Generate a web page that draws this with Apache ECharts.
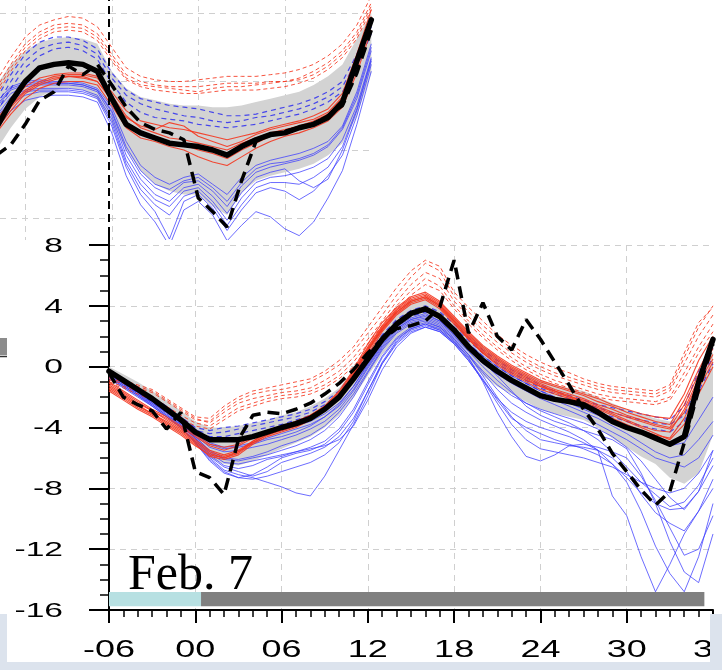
<!DOCTYPE html>
<html>
<head>
<meta charset="utf-8">
<script src="https://cdn.jsdelivr.net/npm/echarts@6/dist/echarts.min.js"></script>
<style>
  html, body { margin: 0; padding: 0; background: #ffffff; }
  #chart { width: 722px; height: 670px; }
</style>
</head>
<body>
<div id="chart"></div>
<script>
// ---------------- lower (main) panel: forecast hour -06 .. 36 ----------------
const hours = [-6,-5,-4,-3,-2,-1,0,1,2,3,4,5,6,7,8,9,10,11,12,13,14,15,16,17,18,19,20,21,22,23,24,25,26,27,28,29,30,31,32,33,34,35,36];

const ensMean = [-0.3,-0.9,-1.5,-2.1,-2.8,-3.5,-4.3,-4.8,-4.8,-4.8,-4.6,-4.3,-4.0,-3.75,-3.4,-2.8,-2.0,-0.8,0.5,1.8,2.8,3.5,3.8,3.3,2.4,1.3,0.4,-0.3,-0.9,-1.4,-1.9,-2.15,-2.3,-2.5,-3.0,-3.6,-4.0,-4.3,-4.7,-5.1,-4.6,-1.0,1.8];
const observed = [-0.4,-2.0,-2.5,-2.9,-4.1,-3.0,-6.9,-7.3,-8.4,-4.8,-3.2,-3.0,-3.1,-2.8,-2.4,-1.8,-1.1,-0.2,0.9,1.8,2.5,2.7,3.0,3.9,7.0,2.2,4.2,2.0,1.1,3.1,1.8,0.3,-1.2,-2.8,-4.1,-5.7,-6.9,-8.1,-9.1,-8.2,-5.0,-1.5,1.5];
const spreadHigh = [0.0,-0.5,-1.0,-1.6,-2.2,-2.9,-3.6,-4.0,-4.0,-3.9,-3.7,-3.5,-3.2,-3.0,-2.6,-2.1,-1.4,-0.2,1.2,2.5,3.6,4.4,4.6,4.1,3.2,2.2,1.4,0.6,0.0,-0.5,-0.9,-1.2,-1.4,-1.6,-2.0,-2.4,-2.8,-3.1,-3.4,-3.6,-3.0,-1.0,1.0];
const spreadLow = [-0.8,-1.4,-2.0,-2.6,-3.3,-4.0,-5.0,-6.0,-6.4,-6.5,-6.2,-5.8,-5.4,-5.0,-4.6,-4.0,-3.2,-2.0,-0.6,0.8,1.8,2.4,2.8,2.4,1.5,0.5,-0.6,-1.3,-1.8,-2.3,-2.8,-3.1,-3.3,-3.5,-4.0,-4.7,-5.3,-5.9,-6.4,-7.3,-7.7,-7.0,-4.5];

// members (red solid)
const red1 = [-1.0,-1.6,-2.2,-2.8,-3.3,-3.9,-4.5,-5.1,-5.3,-5.1,-4.6,-4.2,-3.9,-3.6,-3.2,-2.6,-1.7,-0.3,1.3,2.7,3.8,4.5,4.8,4.2,3.2,2.2,1.3,0.6,0.0,-0.5,-1.0,-1.3,-1.6,-1.9,-2.3,-2.6,-3.0,-3.3,-3.6,-3.8,-2.2,-0.2,1.6];
const red2 = [-1.2,-1.8,-2.4,-2.9,-3.5,-4.1,-4.8,-5.5,-5.8,-5.5,-4.9,-4.4,-4.1,-3.8,-3.4,-2.8,-1.9,-0.5,1.1,2.5,3.6,4.3,4.6,4.0,3.0,1.9,1.0,0.3,-0.3,-0.8,-1.3,-1.6,-1.9,-2.3,-2.7,-3.1,-3.5,-3.9,-4.2,-4.3,-2.8,-0.8,0.8];
const red3 = [-1.5,-2.1,-2.7,-3.2,-3.8,-4.4,-5.1,-5.9,-6.1,-5.8,-5.1,-4.6,-4.3,-4.0,-3.5,-2.9,-2.0,-0.6,1.0,2.4,3.5,4.2,4.5,3.9,2.9,1.8,0.9,0.1,-0.5,-1.0,-1.5,-1.8,-2.1,-2.4,-2.9,-3.4,-3.8,-4.2,-4.5,-4.7,-3.4,-1.4,0.3];
const red4 = [-1.3,-1.9,-2.5,-3.1,-3.6,-4.2,-4.9,-5.6,-5.9,-5.6,-4.9,-4.3,-3.9,-3.6,-3.2,-2.6,-1.6,-0.2,1.5,2.9,3.9,4.6,4.9,4.3,3.3,2.3,1.4,0.7,0.1,-0.4,-0.9,-1.2,-1.5,-1.8,-2.1,-2.5,-2.8,-3.1,-3.3,-3.4,-1.8,0.4,2.0];
const red5 = [-1.1,-1.7,-2.3,-2.9,-3.4,-4.0,-4.6,-5.2,-5.5,-5.2,-4.7,-4.4,-4.2,-3.9,-3.5,-2.9,-2.1,-0.8,0.8,2.3,3.4,4.1,4.4,3.8,2.8,1.8,0.9,0.2,-0.4,-0.9,-1.3,-1.7,-2.0,-2.2,-2.6,-3.0,-3.3,-3.6,-3.9,-4.1,-3.0,-1.0,0.5];
const red6 = [-1.6,-2.2,-2.8,-3.3,-3.9,-4.5,-5.2,-5.8,-6.0,-5.6,-5.0,-4.5,-4.1,-3.8,-3.3,-2.7,-1.8,-0.4,1.2,2.6,3.7,4.4,4.7,4.1,3.1,2.1,1.2,0.5,-0.1,-0.6,-1.1,-1.5,-1.8,-2.1,-2.5,-2.8,-3.2,-3.5,-3.8,-4.0,-2.5,-0.5,1.2];
const red7 = [-1.4,-2.0,-2.6,-3.1,-3.7,-4.3,-5.0,-5.7,-6.0,-5.7,-5.0,-4.5,-4.2,-3.9,-3.5,-2.8,-1.9,-0.5,1.1,2.5,3.6,4.3,4.6,4.0,3.0,2.0,1.1,0.4,-0.2,-0.7,-1.2,-1.6,-2.0,-2.4,-2.8,-3.2,-3.6,-4.0,-4.4,-4.8,-3.8,-1.8,0.0];

// members (red dashed)
const redDash1 = [-0.8,-1.0,-1.3,-1.6,-2.2,-2.8,-3.4,-3.7,-3.0,-2.4,-2.1,-1.9,-1.7,-1.6,-1.4,-0.9,-0.3,0.6,1.8,3.0,4.3,5.4,6.2,5.8,4.3,3.3,2.4,1.6,0.9,0.3,-0.2,-0.6,-0.9,-1.2,-1.5,-1.7,-1.8,-1.9,-2.0,-1.6,0.2,2.0,3.4];
const redDash2 = [-1.0,-1.3,-1.6,-2.0,-2.6,-3.2,-3.7,-3.9,-3.3,-2.7,-2.4,-2.1,-1.9,-1.8,-1.6,-1.2,-0.6,0.3,1.5,2.7,4.0,5.0,5.8,5.3,4.0,3.0,2.1,1.3,0.6,0.0,-0.5,-0.9,-1.2,-1.5,-1.8,-2.0,-2.1,-2.2,-2.3,-2.0,-0.4,1.3,2.8];
const redDash3 = [-0.9,-1.1,-1.4,-1.7,-2.3,-2.9,-3.5,-3.6,-2.8,-2.2,-1.8,-1.6,-1.5,-1.3,-1.0,-0.5,0.1,1.0,2.2,3.4,4.7,5.9,6.8,6.3,4.6,3.6,2.7,1.9,1.2,0.5,0.0,-0.4,-0.7,-1.0,-1.3,-1.5,-1.6,-1.7,-1.8,-1.4,0.6,2.6,4.0];
const redDash4 = [-1.1,-1.4,-1.8,-2.2,-2.8,-3.4,-3.9,-4.1,-3.5,-2.9,-2.6,-2.3,-2.1,-2.0,-1.8,-1.4,-0.8,0.0,1.2,2.4,3.7,4.7,5.4,5.0,3.8,2.8,1.9,1.1,0.4,-0.2,-0.7,-1.1,-1.4,-1.7,-2.0,-2.2,-2.3,-2.4,-2.5,-2.2,-0.8,0.9,2.3];
const redDash5 = [-0.7,-0.9,-1.2,-1.5,-2.1,-2.7,-3.3,-3.4,-2.6,-2.0,-1.6,-1.4,-1.2,-1.0,-0.8,-0.3,0.4,1.3,2.6,3.9,5.2,6.3,7.0,6.6,4.9,3.9,3.0,2.1,1.4,0.8,0.3,-0.1,-0.4,-0.8,-1.1,-1.3,-1.4,-1.5,-1.6,-1.2,0.9,2.9,3.9];

// members (blue dashed)
const blueDash1 = [-0.3,-0.9,-1.5,-2.1,-2.8,-3.5,-4.2,-4.4,-4.3,-4.1,-3.9,-3.7,-3.5,-3.3,-3.0,-2.5,-1.8,-0.8,0.6,1.9,2.9,3.5,3.8,3.4,2.6,1.7,0.9,0.2,-0.4,-0.9,-1.4,-1.8,-2.1,-2.4,-2.7,-3.0,-3.3,-3.5,-3.7,-3.8,-3.2,-1.0,0.6];
const blueDash2 = [-0.5,-1.1,-1.7,-2.3,-3.0,-3.6,-4.3,-4.6,-4.6,-4.4,-4.2,-4.0,-3.8,-3.5,-3.2,-2.7,-2.0,-1.0,0.4,1.7,2.7,3.3,3.6,3.2,2.4,1.5,0.7,0.0,-0.6,-1.1,-1.6,-2.0,-2.4,-2.7,-3.0,-3.3,-3.6,-3.9,-4.1,-4.3,-3.6,-1.6,0.2];
const blueDash3 = [-0.2,-0.8,-1.4,-2.0,-2.6,-3.3,-4.0,-4.2,-4.0,-3.9,-3.7,-3.5,-3.3,-3.1,-2.8,-2.3,-1.6,-0.5,0.8,2.1,3.1,3.7,4.0,3.6,2.8,1.9,1.1,0.4,-0.2,-0.7,-1.2,-1.6,-1.9,-2.2,-2.5,-2.7,-2.9,-3.1,-3.3,-3.5,-2.6,-0.3,1.2];

// members (blue solid)
const blue1 = [-0.2,-0.8,-1.4,-2.0,-2.7,-3.3,-4.1,-4.7,-4.9,-4.8,-4.6,-4.4,-4.2,-3.9,-3.6,-3.1,-2.4,-1.3,0.1,1.5,2.5,3.1,3.4,3.0,2.3,1.5,0.7,0.0,-0.6,-1.1,-1.6,-2.0,-2.4,-2.8,-3.2,-3.6,-4.0,-4.4,-4.8,-5.2,-5.0,-3.5,-2.0];
const blue2 = [-0.4,-1.0,-1.6,-2.2,-2.9,-3.6,-4.5,-5.3,-5.6,-5.5,-5.3,-5.1,-4.8,-4.5,-4.1,-3.6,-2.8,-1.6,-0.1,1.3,2.4,3.0,3.2,2.8,2.0,1.1,0.2,-0.5,-1.1,-1.6,-2.1,-2.5,-2.9,-3.3,-3.8,-4.3,-4.8,-5.4,-6.0,-6.3,-6.6,-6.0,-4.5];
const blue3 = [-0.6,-1.2,-1.8,-2.4,-3.0,-3.7,-4.6,-5.6,-6.1,-6.2,-6.0,-5.8,-5.5,-5.2,-4.8,-4.2,-3.3,-2.0,-0.4,1.1,2.2,2.8,3.0,2.6,1.8,0.8,-0.3,-1.2,-1.9,-2.4,-2.8,-3.1,-3.4,-3.7,-4.1,-4.6,-5.3,-6.2,-7.4,-8.6,-9.4,-8.2,-6.5];
const blue4 = [-0.3,-0.9,-1.5,-2.2,-2.9,-3.5,-4.4,-5.1,-5.4,-5.3,-5.1,-4.8,-4.6,-4.3,-3.9,-3.3,-2.5,-1.3,0.2,1.6,2.6,3.2,3.5,3.0,2.1,1.2,0.3,-0.6,-1.6,-2.6,-3.2,-3.6,-3.9,-4.2,-4.5,-4.8,-5.4,-7.0,-9.0,-11.5,-13.5,-14.2,-11.0];
const blue5 = [-0.7,-1.3,-1.9,-2.5,-3.2,-3.9,-4.9,-6.0,-6.8,-7.1,-7.3,-7.6,-7.9,-8.3,-8.5,-7.2,-5.5,-3.8,-1.9,0.2,1.6,2.4,2.7,2.4,1.6,0.7,-0.4,-1.5,-2.4,-3.0,-3.5,-3.9,-4.3,-4.8,-5.5,-6.4,-7.6,-9.5,-11.8,-13.6,-14.8,-12.5,-9.0];
const blue6 = [-0.5,-1.1,-1.7,-2.3,-3.0,-3.7,-4.7,-5.8,-6.5,-6.7,-6.5,-6.1,-5.9,-5.6,-5.3,-4.9,-4.1,-2.8,-1.0,0.7,1.9,2.6,2.9,2.6,1.8,0.8,-0.6,-2.0,-3.3,-4.2,-4.8,-5.0,-5.2,-5.3,-5.5,-6.0,-6.9,-8.4,-9.6,-10.3,-10.8,-9.5,-7.4];
const blue7 = [-0.8,-1.4,-2.0,-2.6,-3.3,-4.0,-5.0,-6.2,-7.0,-7.3,-7.1,-6.6,-6.0,-5.7,-5.5,-5.1,-4.3,-3.0,-1.2,0.6,1.8,2.5,2.8,2.5,1.7,0.6,-1.0,-3.0,-4.6,-5.9,-6.2,-5.8,-5.2,-5.1,-5.3,-5.6,-6.0,-7.2,-8.8,-10.6,-12.4,-12.0,-9.8];
const blue8 = [-0.4,-1.0,-1.6,-2.3,-3.0,-3.7,-4.6,-5.5,-6.0,-6.1,-5.9,-5.6,-5.2,-4.9,-4.5,-3.9,-3.0,-1.8,-0.3,1.2,2.3,2.9,3.1,2.7,1.9,1.0,0.0,-0.9,-1.7,-2.4,-2.9,-3.3,-3.7,-4.2,-4.8,-5.6,-6.6,-7.6,-8.4,-9.2,-8.9,-7.8,-6.0];
const blue9 = [-0.6,-1.2,-1.8,-2.5,-3.2,-3.8,-4.8,-5.9,-6.6,-6.9,-7.2,-6.9,-6.3,-6.0,-5.7,-5.3,-4.6,-3.4,-1.6,0.3,1.7,2.5,2.8,2.4,1.6,0.5,-0.8,-2.2,-3.4,-4.0,-4.4,-4.8,-5.1,-5.4,-5.8,-6.4,-7.3,-8.3,-9.0,-9.4,-9.3,-8.2,-5.5];
const blue10 = [-0.3,-0.9,-1.5,-2.1,-2.8,-3.5,-4.3,-5.0,-5.3,-5.2,-5.0,-4.7,-4.4,-4.1,-3.8,-3.3,-2.6,-1.5,0.0,1.4,2.5,3.1,3.3,2.9,2.1,1.3,0.5,-0.2,-0.8,-1.3,-1.8,-2.2,-2.6,-3.0,-3.4,-3.9,-4.4,-5.0,-5.6,-6.0,-5.8,-4.8,-3.6];
const blue11 = [-0.5,-1.1,-1.7,-2.4,-3.1,-3.8,-4.7,-5.7,-6.3,-6.4,-6.2,-6.0,-5.8,-5.6,-5.4,-5.2,-4.8,-3.9,-2.2,-0.2,1.3,2.2,2.6,2.3,1.5,0.4,-0.9,-2.1,-3.0,-3.6,-4.0,-4.3,-4.6,-5.0,-5.5,-8.5,-9.8,-12.5,-14.8,-13.0,-11.0,-9.5,-8.0];
const blue12 = [-0.7,-1.3,-1.9,-2.6,-3.3,-4.0,-5.0,-6.1,-6.9,-7.3,-7.4,-7.2,-6.9,-6.6,-6.3,-5.8,-5.0,-3.6,-1.6,0.2,1.5,2.3,2.6,2.3,1.5,0.4,-0.9,-2.4,-3.8,-4.8,-5.4,-5.6,-5.8,-6.0,-6.3,-6.6,-7.1,-7.6,-8.0,-8.3,-8.0,-7.0,-5.5];

// axis ticks and labels of the lower panel
const xTickValues = [-6, 0, 6, 12, 18, 24, 30, 36];
const xTickLabels = ['-06', '00', '06', '12', '18', '24', '30', '36'];
const yTickValues = [8, 4, 0, -4, -8, -12, -16];
const yTickLabels = ['8', '4', '0', '-4', '-8', '-12', '-16'];

// verification time and timeline strip
const verifyHour = 18;
const stripStart = -6, stripSplit = 0.4, stripEnd = 35.4;
const stripTop = -14.82, stripBottom = -15.75;
const dateLabel = 'Feb. 7';

// ---------------- upper panel: hour -14 .. 12 ----------------
const hoursTop = [-14,-13,-12,-11,-10,-9,-8,-7,-6,-5,-4,-3,-2,-1,0,1,2,3,4,5,6,7,8,9,10,11,12];
const topGridHours = [-12, -6, 0, 6];
const topGridValues = [8, 4, 0, -4];
const topMean = [1.3,2.8,4.0,4.8,5.0,5.1,5.0,4.6,3.0,1.5,1.0,0.7,0.4,0.3,0.2,0.0,-0.3,0.2,0.6,0.9,1.0,1.3,1.5,1.9,2.8,5.2,7.6];
const topObserved = [-0.3,0.3,1.5,2.9,3.4,4.9,4.4,5.0,3.8,2.5,1.6,1.2,1.0,0.6,-2.8,-3.6,-4.5,-1.8,0.5,0.9,1.1,1.3,1.5,2.0,2.6,4.5,7.0];
const topSpreadHigh = [3.8,5.0,5.8,6.3,6.5,6.6,6.5,6.2,4.6,3.6,3.1,2.9,2.7,2.6,2.6,2.5,2.5,2.6,2.8,3.0,3.2,3.4,3.8,4.3,5.0,6.5,8.0];
const topSpreadLow = [0.0,1.3,2.4,3.1,3.5,3.6,3.5,3.0,1.6,0.0,-1.2,-2.0,-2.4,-2.6,-2.6,-3.3,-3.8,-2.5,-1.8,-1.5,-1.3,-1.1,-0.8,-0.3,0.4,2.0,4.5];
const topRed1 = [1.5,2.6,3.5,4.0,4.3,4.4,4.4,4.2,3.2,2.0,1.3,1.0,0.7,0.6,0.4,0.2,0.0,0.4,0.7,1.0,1.2,1.4,1.7,2.1,3.0,5.2,7.8];
const topRed2 = [1.2,2.3,3.3,3.8,4.1,4.3,4.3,4.0,2.9,1.6,1.0,0.8,0.5,0.3,0.0,-0.2,-0.5,0.0,0.4,0.8,1.0,1.2,1.5,1.9,2.7,4.8,7.4];
const topRed3 = [1.8,2.8,3.7,4.2,4.4,4.5,4.5,4.3,3.4,2.3,1.7,1.5,1.3,1.2,1.0,0.8,0.6,0.8,1.0,1.3,1.5,1.7,2.0,2.4,3.3,5.6,8.2];
const topRed4 = [1.0,2.1,3.0,3.6,3.9,4.0,4.0,3.8,2.6,1.3,0.7,0.5,0.2,0.0,-0.4,-0.7,-0.9,-0.4,0.1,0.5,0.8,1.0,1.3,1.7,2.5,4.5,7.0];
const topRed5 = [1.4,2.5,3.4,3.9,4.2,4.3,4.2,4.0,3.0,1.9,1.4,1.2,1.6,1.4,0.8,0.5,0.2,0.5,0.9,1.2,1.4,1.6,1.8,2.2,3.1,5.0,7.6];
const topRedDash1 = [3.6,5.0,6.2,6.9,7.3,7.4,7.3,6.8,5.6,4.4,4.0,3.8,3.7,3.7,3.7,3.8,3.9,3.9,3.9,4.0,4.0,4.2,4.6,5.1,5.8,6.9,8.6];
const topRedDash2 = [3.2,4.6,5.8,6.5,6.9,7.0,6.9,6.4,5.2,4.1,3.7,3.5,3.4,3.3,3.3,3.4,3.5,3.5,3.5,3.6,3.7,3.9,4.2,4.7,5.4,6.5,8.2];
const topRedDash3 = [4.0,5.4,6.6,7.3,7.6,7.8,7.7,7.2,6.0,4.8,4.3,4.1,4.0,4.0,4.1,4.2,4.3,4.3,4.3,4.4,4.5,4.7,5.0,5.5,6.2,7.3,9.0];
const topRedDash4 = [3.4,4.8,6.0,6.7,7.1,7.2,7.1,6.6,5.4,4.2,3.8,3.7,3.6,3.5,3.4,3.6,3.7,3.7,3.8,3.9,4.0,4.1,4.4,4.9,5.6,6.7,8.4];
const topBlueDash1 = [3.0,4.4,5.6,6.3,6.6,6.6,6.4,5.9,4.5,3.5,3.0,2.8,2.6,2.5,2.4,2.2,2.0,2.0,2.1,2.3,2.5,2.7,3.0,3.4,4.0,5.6,7.5];
const topBlueDash2 = [2.6,4.0,5.2,5.9,6.2,6.3,6.1,5.6,4.2,3.2,2.7,2.4,2.2,2.0,1.9,1.7,1.6,1.7,1.9,2.0,2.2,2.4,2.7,3.1,3.7,5.2,7.2];
const topBlueDash3 = [2.2,3.6,4.8,5.5,5.9,6.0,5.8,5.3,3.9,2.8,2.2,1.9,1.8,1.7,1.5,1.4,1.3,1.4,1.5,1.7,1.9,2.1,2.4,2.8,3.4,4.8,6.8];
const topBlue1 = [2.5,3.5,3.8,3.9,3.9,3.9,3.8,3.5,2.2,0.0,-1.4,-2.2,-2.6,-1.9,-1.8,-2.4,-3.3,-2.1,-1.3,-1.0,-0.8,-0.6,-0.3,0.2,1.2,3.0,5.8];
const topBlue2 = [2.0,3.1,3.5,3.6,3.6,3.6,3.5,3.2,1.8,-0.6,-2.0,-2.9,-3.3,-2.4,-2.2,-3.0,-4.1,-2.8,-1.9,-1.6,-1.5,-1.3,-1.0,-0.5,0.6,2.6,5.4];
const topBlue3 = [1.6,2.7,3.2,3.4,3.4,3.4,3.3,3.0,1.4,-1.0,-2.6,-3.6,-5.2,-3.0,-2.6,-3.4,-4.7,-3.5,-2.5,-2.2,-2.4,-2.9,-2.4,-1.5,-0.3,2.0,5.0];
const topBlue4 = [2.8,3.7,4.0,4.1,4.0,4.0,3.9,3.6,2.5,0.5,-0.9,-1.6,-2.0,-1.6,-1.4,-2.0,-2.6,-1.6,-0.9,-0.6,-0.4,-0.2,0.1,0.5,1.4,3.4,6.2];
const topBlue5 = [1.2,2.3,2.9,3.1,3.2,3.2,3.1,2.8,1.0,-1.5,-3.2,-4.2,-5.6,-3.5,-3.0,-3.8,-5.3,-4.4,-3.6,-3.9,-4.6,-5.0,-4.2,-2.8,-1.2,1.5,4.6];
const topBlue6 = [2.3,3.3,3.7,3.8,3.8,3.8,3.7,3.4,2.0,-0.3,-1.7,-2.6,-3.0,-2.2,-2.0,-2.7,-3.7,-2.5,-1.6,-1.3,-1.1,-1.8,-2.2,-1.7,0.0,2.3,5.2];
const topBlue7 = [1.9,2.9,3.4,3.5,3.5,3.5,3.4,3.1,1.6,-0.8,-2.3,-3.2,-3.8,-2.7,-2.4,-3.2,-4.4,-3.2,-2.2,-1.9,-1.9,-2.0,-1.6,-1.0,0.2,2.4,5.3];
const topBlue8 = [2.6,3.6,3.9,4.0,3.9,3.9,3.8,3.5,2.3,0.2,-1.2,-2.0,-2.3,-1.8,-1.6,-2.2,-3.0,-1.9,-1.1,-0.8,-0.7,-0.5,-0.2,0.3,1.3,3.2,6.0];
const topVerifyHour = -6.2;

// ---------------- consistency check ----------------
const lowerSets = {ensMean, observed, spreadHigh, spreadLow, red1, red2, red3, red4, red5, red6, red7,
  redDash1, redDash2, redDash3, redDash4, redDash5, blueDash1, blueDash2, blueDash3,
  blue1, blue2, blue3, blue4, blue5, blue6, blue7, blue8, blue9, blue10, blue11, blue12};
const upperSets = {topMean, topObserved, topSpreadHigh, topSpreadLow, topRed1, topRed2, topRed3, topRed4, topRed5,
  topRedDash1, topRedDash2, topRedDash3, topRedDash4, topBlueDash1, topBlueDash2, topBlueDash3,
  topBlue1, topBlue2, topBlue3, topBlue4, topBlue5, topBlue6, topBlue7, topBlue8};
Object.entries(lowerSets).forEach(([k, v]) => { if (v.length !== hours.length) throw new Error(k + ' length ' + v.length); });
Object.entries(upperSets).forEach(([k, v]) => { if (v.length !== hoursTop.length) throw new Error(k + ' length ' + v.length); });

// ---------------- styles ----------------
const RED = '#f4361f', BLUE = '#3b3bff', SPREAD = '#d3d3d3', GRIDLINE = '#cfcfcf';
const FONT = '"Liberation Sans", Arial, Helvetica, sans-serif';

function pairs(xs, ys) { return xs.map((x, i) => [x, ys[i]]); }

function line(panel, xs, ys, style, z, extra) {
  return Object.assign({
    type: 'line',
    xAxisIndex: panel, yAxisIndex: panel,
    data: pairs(xs, ys),
    showSymbol: false, symbol: 'none',
    silent: true, animation: false, z: z,
    lineStyle: style
  }, extra || {});
}

// shaded ensemble spread: one polygon running along the upper bound and back along the lower bound
function spreadBand(panel, xs, lo, hi, z) {
  return {
    type: 'custom',
    xAxisIndex: panel, yAxisIndex: panel,
    silent: true, animation: false, z: z,
    data: [[xs[0], hi[0]]],
    renderItem: function (params, api) {
      const upper = xs.map((x, i) => api.coord([x, hi[i]]));
      const lower = xs.map((x, i) => api.coord([x, lo[i]])).reverse();
      return { type: 'polygon', shape: { points: upper.concat(lower) }, style: { fill: SPREAD } };
    }
  };
}

function members(panel, xs, list, style, z) {
  return list.map(ys => line(panel, xs, ys, style, z));
}

const redSolid = { color: RED, width: 1.1, opacity: 0.9 };
const redDashed = { color: RED, width: 1.0, type: [4, 3], opacity: 0.85 };
const blueSolid = { color: BLUE, width: 1.0, opacity: 0.75 };
const blueDashed = { color: '#2d2dee', width: 1.2, type: [5, 4], opacity: 0.85 };
const meanStyle = { color: '#000', width: 5.5, join: 'round', cap: 'round' };
const obsStyle = { color: '#000', width: 3.5, type: [12, 7] };
const gridDash = { color: GRIDLINE, width: 1, type: [6, 5] };

const ZT = 1;   // upper panel series
const ZL = 3;   // lower panel series

const topGridMarks = topGridHours.map(h => ({ xAxis: h })).concat(topGridValues.map(v => ({ yAxis: v })));

const series = [].concat(
  // upper panel
  [spreadBand(0, hoursTop, topSpreadLow, topSpreadHigh, ZT)],
  members(0, hoursTop, [topBlue1, topBlue2, topBlue3, topBlue4, topBlue5, topBlue6, topBlue7, topBlue8], blueSolid, ZT)
    .map((s, i) => i === 0 ? Object.assign(s, {
      markLine: { silent: true, symbol: ['none', 'none'], z: 0.5, animation: false,
        label: { show: false }, lineStyle: gridDash, data: topGridMarks }
    }) : s),
  members(0, hoursTop, [topBlueDash1, topBlueDash2, topBlueDash3], blueDashed, ZT),
  members(0, hoursTop, [topRed1, topRed2, topRed3, topRed4, topRed5], redSolid, ZT),
  members(0, hoursTop, [topRedDash1, topRedDash2, topRedDash3, topRedDash4], redDashed, ZT),
  [line(0, hoursTop, topMean, meanStyle, ZT, {
    markLine: {
      silent: true, symbol: ['none', 'none'], z: 1.2, animation: false,
      label: { show: false },
      lineStyle: { color: '#000', width: 2, type: [8, 5] },
      data: [{ xAxis: topVerifyHour }]
    }
  })],
  [line(0, hoursTop, topObserved, obsStyle, ZT)],
  // lower panel
  [spreadBand(1, hours, spreadLow, spreadHigh, ZL)],
  members(1, hours, [blue1, blue2, blue3, blue4, blue5, blue6, blue7, blue8, blue9, blue10, blue11, blue12], blueSolid, ZL),
  members(1, hours, [blueDash1, blueDash2, blueDash3], blueDashed, ZL),
  members(1, hours, [red1, red2, red3, red4, red5, red6, red7], redSolid, ZL),
  members(1, hours, [redDash1, redDash2, redDash3, redDash4, redDash5], redDashed, ZL),
  [line(1, hours, ensMean, meanStyle, ZL, {
    markLine: {
      silent: true, symbol: ['none', 'none'], z: 3.5, animation: false,
      label: { show: false },
      lineStyle: { color: '#000', width: 2, type: [8, 5] },
      data: [[{ coord: [verifyHour, 8.1] }, { coord: [verifyHour, stripTop] }]]
    },
    markArea: {
      silent: true, z: 4, animation: false,
      label: { show: false },
      data: [
        [{ coord: [stripStart, stripTop], itemStyle: { color: '#b7e0e2', opacity: 1 } }, { coord: [stripSplit, stripBottom] }],
        [{ coord: [stripSplit, stripTop], itemStyle: { color: '#808080', opacity: 1 } }, { coord: [stripEnd, stripBottom] }]
      ]
    }
  })],
  [line(1, hours, observed, obsStyle, ZL)]
);

const hiddenAxis = { show: false };

const option = {
  animation: false,
  backgroundColor: '#ffffff',
  grid: [
    { left: 0, top: 0, width: 371.3, height: 287 },
    { left: 109, top: 245, width: 604, height: 365 }
  ],
  xAxis: [
    { gridIndex: 0, type: 'value', min: -13.75, max: 12, z: 0,
      axisLine: hiddenAxis, axisTick: hiddenAxis, axisLabel: hiddenAxis, splitLine: hiddenAxis },
    { gridIndex: 1, type: 'value', min: -6, max: 36, interval: 6, z: 2,
      axisLine: { show: true, onZero: false, lineStyle: { color: '#000', width: 2 } },
      axisTick: { show: true, length: 13, lineStyle: { color: '#000', width: 2 } },
      minorTick: { show: true, splitNumber: 6, length: 7, lineStyle: { color: '#000', width: 1.5 } },
      axisLabel: { show: false },
      splitLine: { show: true, showMaxLine: false, lineStyle: gridDash } }
  ],
  yAxis: [
    { gridIndex: 0, type: 'value', min: -8, max: 8.76, z: 0,
      axisLine: hiddenAxis, axisTick: hiddenAxis, axisLabel: hiddenAxis, splitLine: hiddenAxis },
    { gridIndex: 1, type: 'value', min: -16, max: 8, interval: 4, z: 2,
      axisLine: { show: true, onZero: false, lineStyle: { color: '#000', width: 2 } },
      axisTick: { show: true, length: 20, lineStyle: { color: '#000', width: 2 } },
      minorTick: { show: true, splitNumber: 4, length: 9, lineStyle: { color: '#000', width: 1.5 } },
      axisLabel: { show: false },
      splitLine: { show: true, lineStyle: gridDash } }
  ],
  series: series
};

const chart = echarts.init(document.getElementById('chart'), null, { renderer: 'canvas' });
chart.setOption(option);

// ---------------- overlays: panel cover, stretched tick labels, frame ----------------
const px = (x, y) => chart.convertToPixel({ xAxisIndex: 1, yAxisIndex: 1 }, [x, y]);
const axisTopLeft = px(-6, 8);
const axisBottom = px(-6, -16);

const elements = [
  // lower panel sheet laid over the upper panel
  { type: 'rect', silent: true, z: 1.5, shape: { x: 0, y: 240, width: 722, height: 430 }, style: { fill: '#ffffff' } },
  // y axis line continues a little above the top tick
  { type: 'line', silent: true, z: 6, shape: { x1: axisTopLeft[0], y1: axisTopLeft[1] - 12, x2: axisTopLeft[0], y2: axisTopLeft[1] },
    style: { stroke: '#000', lineWidth: 2 } },
  // small legend block at the left edge
  { type: 'rect', silent: true, z: 6, shape: { x: 0, y: 338, width: 7, height: 17 }, style: { fill: '#8c8c8c' } },
  { type: 'line', silent: true, z: 6, shape: { x1: 0, y1: 356.5, x2: 7, y2: 356.5 }, style: { stroke: '#333', lineWidth: 1.5 } },
  // date annotation
  { type: 'text', silent: true, z: 3.9, x: 128, y: 576,
    style: { text: dateLabel, font: '50px "Liberation Serif", "Times New Roman", serif', fill: '#000', align: 'left', verticalAlign: 'middle' } }
];

xTickValues.forEach((v, i) => {
  const p = px(v, -16);
  elements.push({ type: 'text', silent: true, z: 6, x: p[0], y: axisBottom[1] + 40.5, scaleX: 1.5,
    style: { text: xTickLabels[i], font: '24px ' + FONT, fill: '#000', align: 'center', verticalAlign: 'middle' } });
});
yTickValues.forEach((v, i) => {
  const p = px(-6, v);
  elements.push({ type: 'text', silent: true, z: 6, x: 63, y: p[1] + 1, scaleX: 1.6,
    style: { text: yTickLabels[i], font: '21px ' + FONT, fill: '#000', align: 'right', verticalAlign: 'middle' } });
});

// page frame around the lower part
const FRAME = '#dce3ed';
elements.push(
  { type: 'rect', silent: true, z: 10, shape: { x: 0, y: 614, width: 7, height: 56 }, style: { fill: FRAME } },
  { type: 'rect', silent: true, z: 10, shape: { x: 710, y: 614, width: 12, height: 56 }, style: { fill: FRAME } },
  { type: 'rect', silent: true, z: 10, shape: { x: 0, y: 662, width: 722, height: 8 }, style: { fill: FRAME } }
);

chart.setOption({ graphic: { elements: elements } });
</script>
